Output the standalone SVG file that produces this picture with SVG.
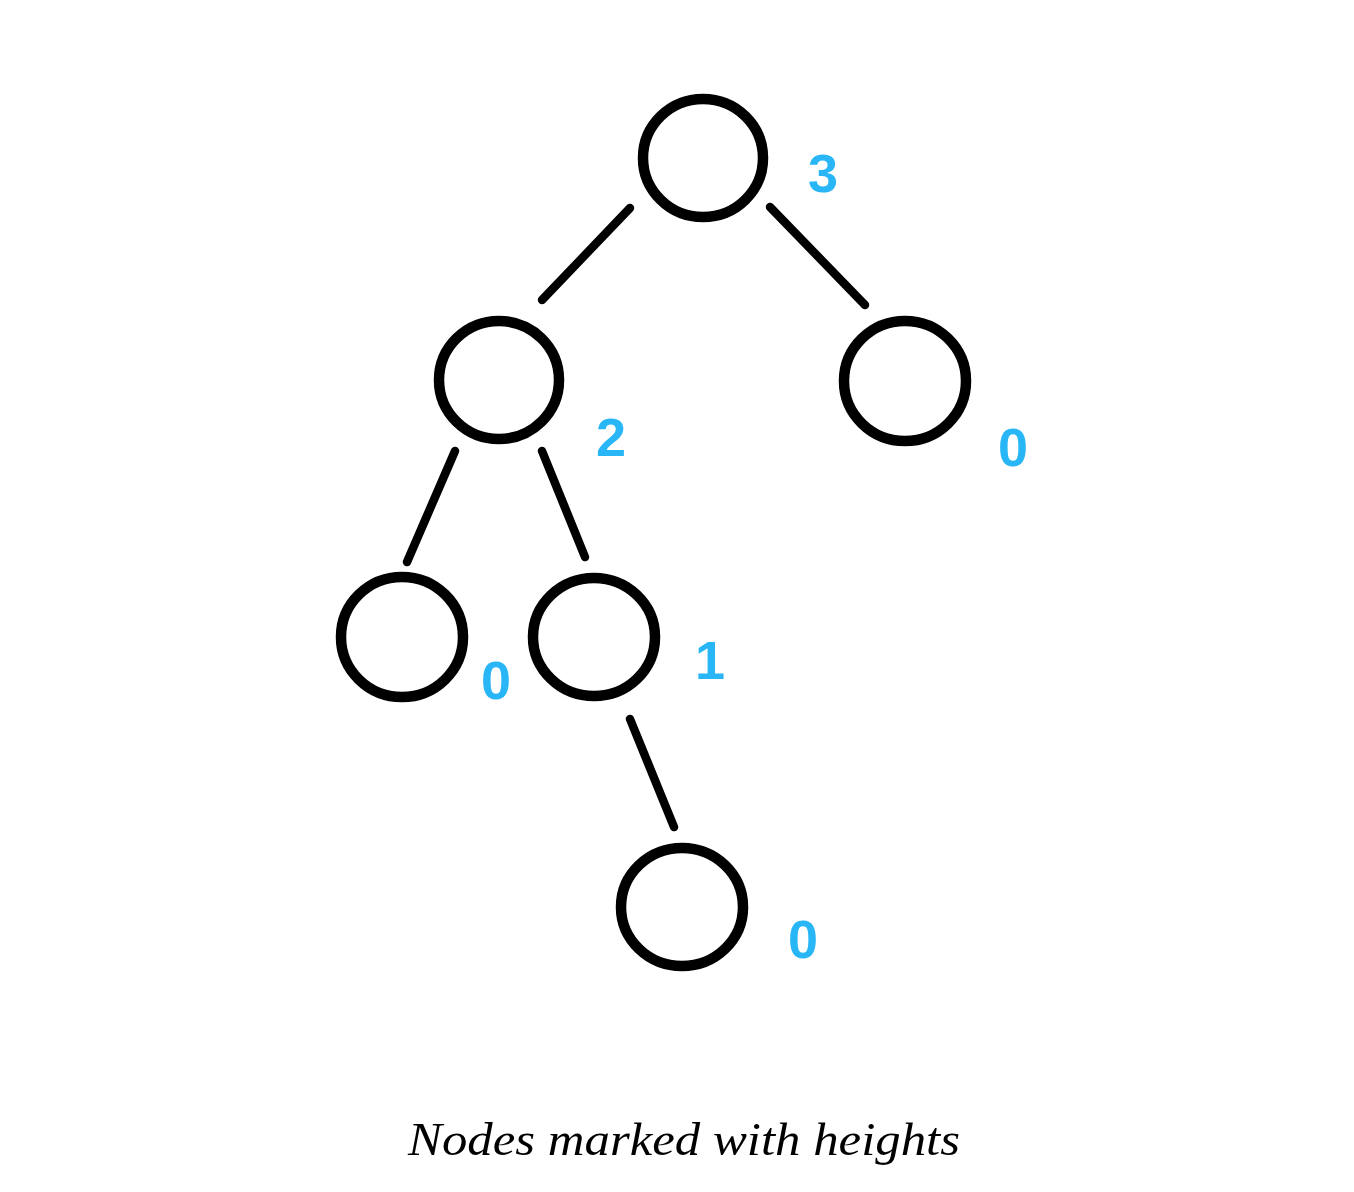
<svg xmlns="http://www.w3.org/2000/svg" width="1354" height="1192" viewBox="0 0 1354 1192">
<style>
.node{fill:none;stroke:#000;stroke-width:10.5}
.edge{stroke:#000;stroke-width:8.5;stroke-linecap:round;fill:none}
.h{font-family:"Liberation Sans",Arial,sans-serif;font-weight:bold;font-size:54px;fill:#29B6F6;text-anchor:middle}
.cap{font-family:"Liberation Serif","Times New Roman",serif;font-style:italic;font-size:46px;fill:#000}
</style>
<rect width="1354" height="1192" fill="#fff"/>
<g id="connectors">
<line class="edge" x1="630" y1="208" x2="542" y2="300"/>
<line class="edge" x1="770" y1="207" x2="865" y2="305"/>
<line class="edge" x1="455" y1="451" x2="407" y2="562"/>
<line class="edge" x1="542" y1="451" x2="585" y2="557"/>
<line class="edge" x1="630" y1="719" x2="674" y2="827"/>
</g>
<g id="n3"><ellipse class="node" cx="703" cy="158" rx="60" ry="59"/><text class="h" x="823" y="192">3</text></g>
<g id="n2"><ellipse class="node" cx="499" cy="380" rx="60" ry="59"/><text class="h" x="611" y="456">2</text></g>
<g id="n0a"><ellipse class="node" cx="905" cy="381" rx="61" ry="60"/><text class="h" x="1013" y="466">0</text></g>
<g id="n0b"><ellipse class="node" cx="402" cy="637" rx="61" ry="60"/><text class="h" x="496" y="699">0</text></g>
<g id="n1"><ellipse class="node" cx="594" cy="637" rx="61" ry="59"/><text class="h" x="710" y="679">1</text></g>
<g id="n0c"><ellipse class="node" cx="682" cy="907" rx="61" ry="59"/><text class="h" x="803" y="958">0</text></g>
<text class="cap" x="408" y="1155" textLength="552" lengthAdjust="spacingAndGlyphs">Nodes marked with heights</text>
</svg>
